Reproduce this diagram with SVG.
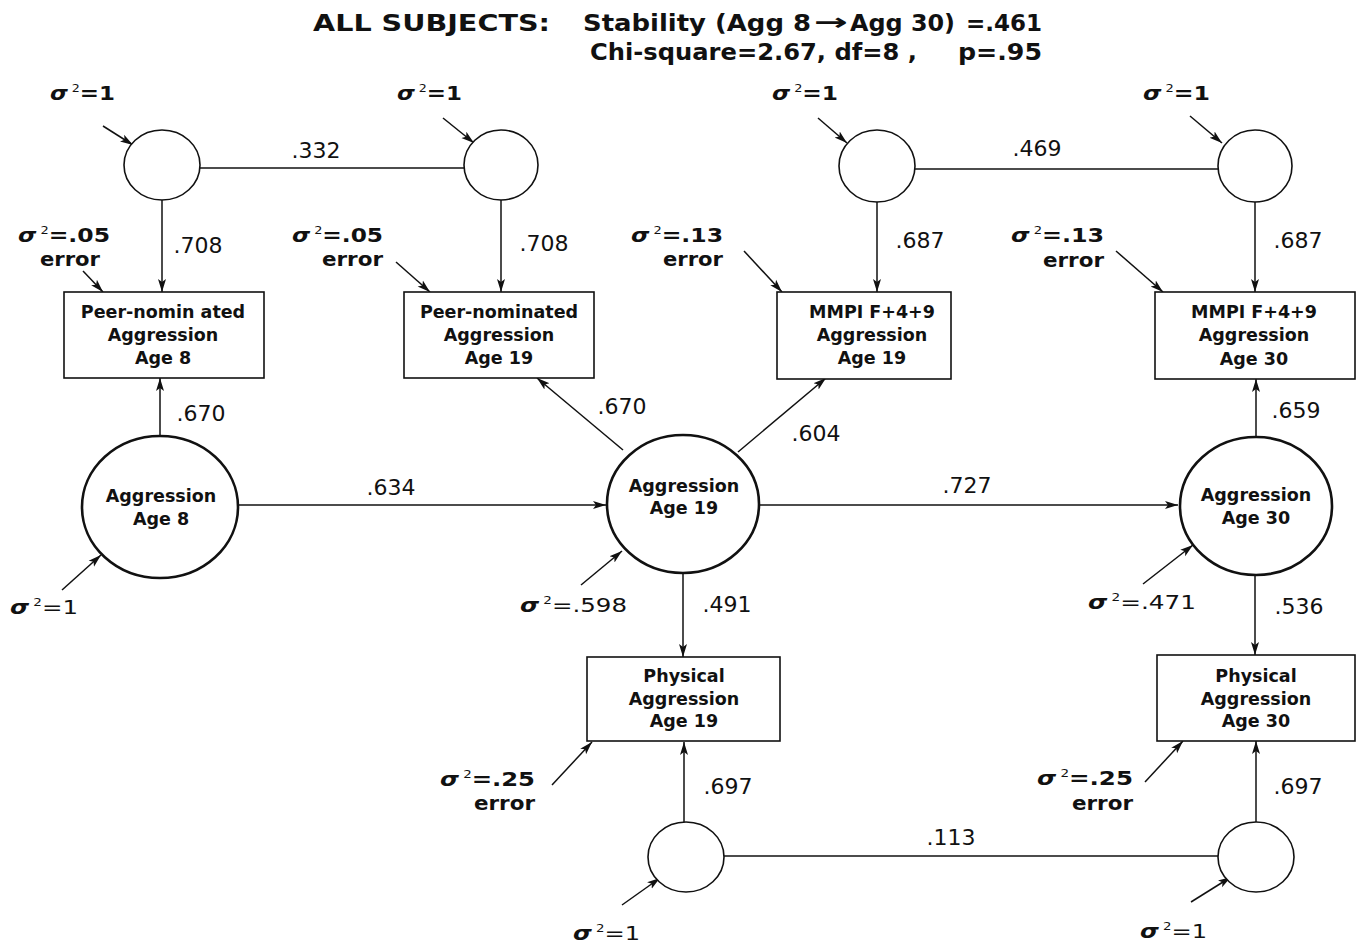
<svg xmlns="http://www.w3.org/2000/svg" width="1360" height="943" viewBox="0 0 1360 943">
<defs>
<marker id="ah" markerUnits="userSpaceOnUse" markerWidth="14" markerHeight="10" refX="13" refY="5" orient="auto">
<path d="M0,1 L13,5 L0,9 L3,5 Z" fill="#111"/>
</marker>
</defs>
<style>
text{font-family:"DejaVu Sans","Liberation Sans",Arial,sans-serif;fill:#111}
.t{font-size:23px;font-weight:bold}
.b{font-size:17.5px;font-weight:bold}
.n{font-size:22px}
.s{font-size:20px;font-weight:bold}
.sup{font-size:11px;font-weight:normal}
.box{fill:#fff;stroke:#111;stroke-width:1.6}
.big{fill:#fff;stroke:#111;stroke-width:2.6}
.sm{fill:#fff;stroke:#111;stroke-width:1.6}
.c{stroke:#111;stroke-width:1.5;fill:none}
.a{stroke:#111;stroke-width:1.5;fill:none;marker-end:url(#ah)}
</style>
<rect width="1360" height="943" fill="#fff"/>
<g id="title">
<text class="t" x="313" y="31" textLength="237" lengthAdjust="spacingAndGlyphs">ALL SUBJECTS:</text>
<text class="t" x="583" y="31" textLength="228" lengthAdjust="spacingAndGlyphs">Stability (Agg 8</text>
<text class="t" x="814" y="30" textLength="34" lengthAdjust="spacingAndGlyphs">→</text>
<text class="t" x="850" y="31" textLength="105" lengthAdjust="spacingAndGlyphs">Agg 30)</text>
<text class="t" x="966" y="31" textLength="76" lengthAdjust="spacingAndGlyphs">=.461</text>
<text class="t" x="590" y="60" textLength="327" lengthAdjust="spacingAndGlyphs">Chi-square=2.67, df=8 ,</text>
<text class="t" x="958" y="60" textLength="84" lengthAdjust="spacingAndGlyphs">p=.95</text>
</g>
<g id="connectors">
<line class="c" x1="200" y1="168" x2="464" y2="168"/>
<line class="c" x1="915" y1="169" x2="1218" y2="169"/>
<line class="c" x1="724" y1="856" x2="1218" y2="856"/>
<line class="a" x1="103" y1="126" x2="133" y2="145"/>
<line class="a" x1="443" y1="118" x2="474" y2="143"/>
<line class="a" x1="818" y1="118" x2="847" y2="143"/>
<line class="a" x1="1190" y1="116" x2="1222" y2="143"/>
<line class="a" x1="162" y1="200" x2="162" y2="292"/>
<line class="a" x1="501" y1="200" x2="501" y2="292"/>
<line class="a" x1="877" y1="201" x2="877" y2="292"/>
<line class="a" x1="1255" y1="201" x2="1255" y2="292"/>
<line class="a" x1="83" y1="271" x2="103" y2="292"/>
<line class="a" x1="396" y1="262" x2="430" y2="292"/>
<line class="a" x1="744" y1="251" x2="782" y2="292"/>
<line class="a" x1="1116" y1="251" x2="1163" y2="292"/>
<line class="a" x1="160" y1="436" x2="160" y2="378"/>
<line class="a" x1="62" y1="590" x2="101" y2="555"/>
<line class="a" x1="238" y1="505" x2="606" y2="505"/>
<line class="a" x1="623" y1="450" x2="537" y2="378"/>
<line class="a" x1="738" y1="452" x2="826" y2="378"/>
<line class="a" x1="759" y1="505" x2="1178" y2="505"/>
<line class="a" x1="581" y1="585" x2="622" y2="551"/>
<line class="a" x1="683" y1="573" x2="683" y2="657"/>
<line class="a" x1="1256" y1="437" x2="1256" y2="379"/>
<line class="a" x1="1143" y1="584" x2="1193" y2="545"/>
<line class="a" x1="1255" y1="576" x2="1255" y2="655"/>
<line class="a" x1="552" y1="785" x2="592" y2="742"/>
<line class="a" x1="1145" y1="782" x2="1183" y2="741"/>
<line class="a" x1="684" y1="822" x2="684" y2="742"/>
<line class="a" x1="1256" y1="822" x2="1256" y2="741"/>
<line class="a" x1="622" y1="905" x2="660" y2="878"/>
<line class="a" x1="1191" y1="902" x2="1231" y2="877"/>
</g>
<g id="labels">
<text class="n" x="316" y="158" text-anchor="middle">.332</text>
<text class="n" x="1037" y="156" text-anchor="middle">.469</text>
<text class="n" x="198" y="253" text-anchor="middle">.708</text>
<text class="n" x="544" y="251" text-anchor="middle">.708</text>
<text class="n" x="920" y="248" text-anchor="middle">.687</text>
<text class="n" x="1298" y="248" text-anchor="middle">.687</text>
<text class="n" x="201" y="421" text-anchor="middle">.670</text>
<text class="n" x="391" y="495" text-anchor="middle">.634</text>
<text class="n" x="622" y="414" text-anchor="middle">.670</text>
<text class="n" x="816" y="441" text-anchor="middle">.604</text>
<text class="n" x="967" y="493" text-anchor="middle">.727</text>
<text class="n" x="727" y="612" text-anchor="middle">.491</text>
<text class="n" x="1296" y="418" text-anchor="middle">.659</text>
<text class="n" x="1299" y="614" text-anchor="middle">.536</text>
<text class="n" x="728" y="794" text-anchor="middle">.697</text>
<text class="n" x="1298" y="794" text-anchor="middle">.697</text>
<text class="n" x="951" y="845" text-anchor="middle">.113</text>
<text class="s" x="50" y="100" textLength="65" lengthAdjust="spacingAndGlyphs"><tspan font-style="italic">σ</tspan><tspan class="sup" dy="-8"> 2</tspan><tspan dy="8">=1</tspan></text>
<text class="s" x="397" y="100" textLength="65" lengthAdjust="spacingAndGlyphs"><tspan font-style="italic">σ</tspan><tspan class="sup" dy="-8"> 2</tspan><tspan dy="8">=1</tspan></text>
<text class="s" x="772" y="100" textLength="66" lengthAdjust="spacingAndGlyphs"><tspan font-style="italic">σ</tspan><tspan class="sup" dy="-8"> 2</tspan><tspan dy="8">=1</tspan></text>
<text class="s" x="1143" y="100" textLength="67" lengthAdjust="spacingAndGlyphs"><tspan font-style="italic">σ</tspan><tspan class="sup" dy="-8"> 2</tspan><tspan dy="8">=1</tspan></text>
<text class="s" x="18" y="242" textLength="92" lengthAdjust="spacingAndGlyphs"><tspan font-style="italic">σ</tspan><tspan class="sup" dy="-8"> 2</tspan><tspan dy="8">=.05</tspan></text>
<text class="s" x="40" y="266" textLength="60" lengthAdjust="spacingAndGlyphs">error</text>
<text class="s" x="292" y="242" textLength="91" lengthAdjust="spacingAndGlyphs"><tspan font-style="italic">σ</tspan><tspan class="sup" dy="-8"> 2</tspan><tspan dy="8">=.05</tspan></text>
<text class="s" x="322" y="266" textLength="61" lengthAdjust="spacingAndGlyphs">error</text>
<text class="s" x="631" y="242" textLength="92" lengthAdjust="spacingAndGlyphs"><tspan font-style="italic">σ</tspan><tspan class="sup" dy="-8"> 2</tspan><tspan dy="8">=.13</tspan></text>
<text class="s" x="663" y="266" textLength="60" lengthAdjust="spacingAndGlyphs">error</text>
<text class="s" x="1011" y="242" textLength="93" lengthAdjust="spacingAndGlyphs"><tspan font-style="italic">σ</tspan><tspan class="sup" dy="-8"> 2</tspan><tspan dy="8">=.13</tspan></text>
<text class="s" x="1043" y="267" textLength="61" lengthAdjust="spacingAndGlyphs">error</text>
<text class="s" x="10" y="614" textLength="68" lengthAdjust="spacingAndGlyphs"><tspan font-style="italic">σ</tspan><tspan class="sup" dy="-8"> 2</tspan><tspan dy="8" font-weight="normal">=1</tspan></text>
<text class="s" x="520" y="612" textLength="107" lengthAdjust="spacingAndGlyphs"><tspan font-style="italic">σ</tspan><tspan class="sup" dy="-8"> 2</tspan><tspan dy="8" font-weight="normal">=.598</tspan></text>
<text class="s" x="1088" y="609" textLength="108" lengthAdjust="spacingAndGlyphs"><tspan font-style="italic">σ</tspan><tspan class="sup" dy="-8"> 2</tspan><tspan dy="8" font-weight="normal">=.471</tspan></text>
<text class="s" x="440" y="786" textLength="95" lengthAdjust="spacingAndGlyphs"><tspan font-style="italic">σ</tspan><tspan class="sup" dy="-8"> 2</tspan><tspan dy="8">=.25</tspan></text>
<text class="s" x="474" y="810" textLength="61" lengthAdjust="spacingAndGlyphs">error</text>
<text class="s" x="1037" y="785" textLength="96" lengthAdjust="spacingAndGlyphs"><tspan font-style="italic">σ</tspan><tspan class="sup" dy="-8"> 2</tspan><tspan dy="8">=.25</tspan></text>
<text class="s" x="1072" y="810" textLength="61" lengthAdjust="spacingAndGlyphs">error</text>
<text class="s" x="573" y="940" textLength="67" lengthAdjust="spacingAndGlyphs"><tspan font-style="italic">σ</tspan><tspan class="sup" dy="-8"> 2</tspan><tspan dy="8" font-weight="normal">=1</tspan></text>
<text class="s" x="1140" y="938" textLength="67" lengthAdjust="spacingAndGlyphs"><tspan font-style="italic">σ</tspan><tspan class="sup" dy="-8"> 2</tspan><tspan dy="8" font-weight="normal">=1</tspan></text>
</g>
<g id="c1"><ellipse class="sm" cx="162" cy="165" rx="38" ry="35"/></g>
<g id="c2"><ellipse class="sm" cx="501" cy="165" rx="37" ry="35"/></g>
<g id="c3"><ellipse class="sm" cx="877" cy="166" rx="38" ry="36"/></g>
<g id="c4"><ellipse class="sm" cx="1255" cy="166" rx="37" ry="36"/></g>
<g id="d1"><ellipse class="sm" cx="686" cy="857" rx="38" ry="35"/></g>
<g id="d2"><ellipse class="sm" cx="1256" cy="857" rx="38" ry="35"/></g>
<g id="box-peer8"><rect class="box" x="64" y="292" width="200" height="86"/>
<text class="b" x="163" y="318" text-anchor="middle">Peer-nomin ated</text>
<text class="b" x="163" y="341" text-anchor="middle">Aggression</text>
<text class="b" x="163" y="364" text-anchor="middle">Age 8</text></g>
<g id="box-peer19"><rect class="box" x="404" y="292" width="190" height="86"/>
<text class="b" x="499" y="318" text-anchor="middle">Peer-nominated</text>
<text class="b" x="499" y="341" text-anchor="middle">Aggression</text>
<text class="b" x="499" y="364" text-anchor="middle">Age 19</text></g>
<g id="box-mmpi19"><rect class="box" x="777" y="292" width="174" height="87"/>
<text class="b" x="872" y="318" text-anchor="middle">MMPI F+4+9</text>
<text class="b" x="872" y="341" text-anchor="middle">Aggression</text>
<text class="b" x="872" y="364" text-anchor="middle">Age 19</text></g>
<g id="box-mmpi30"><rect class="box" x="1155" y="292" width="200" height="87"/>
<text class="b" x="1254" y="318" text-anchor="middle">MMPI F+4+9</text>
<text class="b" x="1254" y="341" text-anchor="middle">Aggression</text>
<text class="b" x="1254" y="365" text-anchor="middle">Age 30</text></g>
<g id="agg8"><ellipse class="big" cx="160" cy="507" rx="78" ry="71"/>
<text class="b" x="161" y="502" text-anchor="middle">Aggression</text>
<text class="b" x="161" y="525" text-anchor="middle">Age 8</text></g>
<g id="agg19"><ellipse class="big" cx="683" cy="504" rx="76" ry="69"/>
<text class="b" x="684" y="492" text-anchor="middle">Aggression</text>
<text class="b" x="684" y="514" text-anchor="middle">Age 19</text></g>
<g id="agg30"><ellipse class="big" cx="1256" cy="506" rx="76" ry="69"/>
<text class="b" x="1256" y="501" text-anchor="middle">Aggression</text>
<text class="b" x="1256" y="524" text-anchor="middle">Age 30</text></g>
<g id="box-phys19"><rect class="box" x="587" y="657" width="193" height="84"/>
<text class="b" x="684" y="682" text-anchor="middle">Physical</text>
<text class="b" x="684" y="705" text-anchor="middle">Aggression</text>
<text class="b" x="684" y="727" text-anchor="middle">Age 19</text></g>
<g id="box-phys30"><rect class="box" x="1157" y="655" width="198" height="86"/>
<text class="b" x="1256" y="682" text-anchor="middle">Physical</text>
<text class="b" x="1256" y="705" text-anchor="middle">Aggression</text>
<text class="b" x="1256" y="727" text-anchor="middle">Age 30</text></g>
</svg>
